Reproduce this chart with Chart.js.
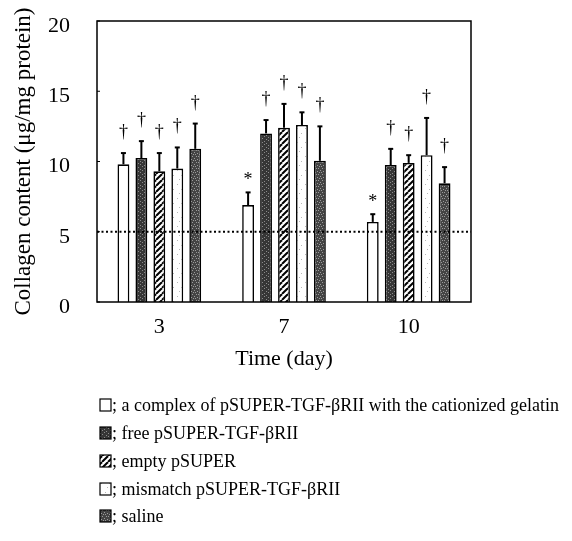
<!DOCTYPE html>
<html>
<head>
<meta charset="utf-8">
<script src="https://cdn.jsdelivr.net/npm/chart.js@4.4.0/dist/chart.umd.min.js"></script>
<style>
html,body{margin:0;padding:0;background:#fff;}
#wrap{width:572px;height:541px;position:relative;}
</style>
</head>
<body>
<div id="wrap"><canvas id="c" width="572" height="541"></canvas></div>
<script>
// ---- data ----
const categories = ['3', '7', '10'];
const seriesNames = [
  '; a complex of pSUPER-TGF-\u03B2RII with the cationized gelatin',
  '; free pSUPER-TGF-\u03B2RII',
  '; empty pSUPER',
  '; mismatch pSUPER-TGF-\u03B2RII',
  '; saline'
];
const complexVals  = [9.8, 6.9, 5.7];
const freeVals     = [10.25, 12.0, 9.75];
const emptyVals    = [9.3, 12.4, 9.9];
const mismatchVals = [9.5, 12.6, 10.45];
const salineVals   = [10.9, 10.05, 8.45];

const complexErr  = [0.8, 0.9, 0.55];
const freeErr     = [1.2, 0.95, 1.15];
const emptyErr    = [1.3, 1.7, 0.55];
const mismatchErr = [1.5, 0.9, 2.65];
const salineErr   = [1.8, 2.45, 1.15];

const complexMarks  = ['\u2020', '*', '*'];
const freeMarks     = ['\u2020', '\u2020', '\u2020'];
const emptyMarks    = ['\u2020', '\u2020', '\u2020'];
const mismatchMarks = ['\u2020', '\u2020', '\u2020'];
const salineMarks   = ['\u2020', '\u2020', '\u2020'];

const yTicks = [0, 5, 10, 15, 20];
const referenceLevel = 5;

// ---- patterns ----
function makePattern(draw, w, h) {
  const cv = document.createElement('canvas');
  cv.width = w; cv.height = h;
  const g = cv.getContext('2d');
  draw(g, w, h);
  return g.createPattern(cv, 'repeat');
}
const pWhite = '#ffffff';
const pFree = makePattern((g, w, h) => {
  g.fillStyle = '#363636'; g.fillRect(0, 0, w, h);
  g.fillStyle = '#8a8a8a';
  [[0,0],[2,1],[1,3],[3,2],[0,5],[2,4],[3,6],[1,7]].forEach(p => g.fillRect(p[0]*2, p[1], 1, 1));
}, 8, 8);
const pEmpty = makePattern((g, w, h) => {
  g.fillStyle = '#fff'; g.fillRect(0, 0, w, h);
  g.strokeStyle = '#000'; g.lineWidth = 2;
  for (let k = -w; k <= 2 * w; k += 6) {
    g.beginPath(); g.moveTo(k, h); g.lineTo(k + h, 0); g.stroke();
  }
}, 6, 6);
const pMismatch = makePattern((g, w, h) => {
  g.fillStyle = '#ffffff'; g.fillRect(0, 0, w, h);
  g.fillStyle = '#b8b8b8';
  g.fillRect(1, 2, 1, 1); g.fillRect(5, 7, 1, 1); g.fillRect(3, 11, 1, 1);
}, 8, 14);
const pSaline = makePattern((g, w, h) => {
  g.fillStyle = '#444444'; g.fillRect(0, 0, w, h);
  g.fillStyle = '#9a9a9a';
  g.fillRect(0, 0, 1, 1); g.fillRect(2, 2, 1, 1); g.fillRect(4, 0, 1, 1); g.fillRect(1, 4, 1, 1); g.fillRect(3, 4, 1, 1); g.fillRect(5, 3, 1, 1);
}, 6, 6);

const fills = [pWhite, pFree, pEmpty, pMismatch, pSaline];
const allVals = [complexVals, freeVals, emptyVals, mismatchVals, salineVals];
const allErr = [complexErr, freeErr, emptyErr, mismatchErr, salineErr];
const allMarks = [complexMarks, freeMarks, emptyMarks, mismatchMarks, salineMarks];

const SERIF = '"Liberation Serif", "DejaVu Serif", serif';

const datasets = allVals.map((v, i) => ({
  label: seriesNames[i],
  data: v,
  backgroundColor: fills[i],
  borderColor: '#000',
  borderWidth: 1.6,
  borderSkipped: 'bottom',
  categoryPercentage: 0.72,
  barPercentage: 0.66,
  errTop: allErr[i],
  marks: allMarks[i]
}));

const extrasPlugin = {
  id: 'extras',
  afterDatasetsDraw(chart) {
    const ctx = chart.ctx;
    const y = chart.scales.y;
    const a = chart.chartArea;
    ctx.save();
    // reference dotted line
    const ry = y.getPixelForValue(referenceLevel);
    ctx.strokeStyle = '#000';
    ctx.lineWidth = 2;
    ctx.setLineDash([2, 2.5]);
    ctx.beginPath(); ctx.moveTo(a.left, ry); ctx.lineTo(a.right, ry); ctx.stroke();
    ctx.setLineDash([]);
    // error bars and marks
    chart.data.datasets.forEach((ds, i) => {
      const meta = chart.getDatasetMeta(i);
      meta.data.forEach((bar, j) => {
        const top = y.getPixelForValue(ds.data[j] + ds.errTop[j]);
        const base = y.getPixelForValue(ds.data[j]);
        ctx.strokeStyle = '#000';
        ctx.lineWidth = 2;
        ctx.beginPath(); ctx.moveTo(bar.x, base); ctx.lineTo(bar.x, top); ctx.stroke();
        ctx.beginPath(); ctx.moveTo(bar.x - 2.5, top); ctx.lineTo(bar.x + 2.5, top); ctx.stroke();
        ctx.fillStyle = '#000';
        ctx.font = '18px ' + SERIF;
        ctx.textAlign = 'center';
        ctx.textBaseline = 'alphabetic';
        const m = ds.marks[j];
        ctx.fillText(m, bar.x, m === '*' ? top - 7 : top - 16);
      });
    });
    // small inward ticks on the left axis
    ctx.lineWidth = 1;
    y.ticks.forEach(t => {
      const py = y.getPixelForValue(t.value);
      ctx.beginPath(); ctx.moveTo(a.left, py); ctx.lineTo(a.left + 3, py); ctx.stroke();
    });
    // frame
    ctx.lineWidth = 1.5;
    ctx.strokeStyle = '#000';
    ctx.strokeRect(a.left, a.top, a.right - a.left, a.bottom - a.top);
    ctx.restore();
  },
  afterDraw(chart) {
    const ctx = chart.ctx;
    ctx.save();
    const ys = [405, 433, 461, 489, 516];
    chart.data.datasets.forEach((ds, i) => {
      const yy = ys[i];
      ctx.fillStyle = ds.backgroundColor;
      ctx.fillRect(100, yy - 6, 11, 12);
      ctx.strokeStyle = '#000';
      ctx.lineWidth = 1.2;
      ctx.strokeRect(100, yy - 6, 11, 12);
      ctx.fillStyle = '#000';
      ctx.font = '18px ' + SERIF;
      ctx.textAlign = 'left';
      ctx.textBaseline = 'middle';
      ctx.fillText(ds.label, 112, yy + 1);
    });
    ctx.restore();
  }
};

new Chart(document.getElementById('c'), {
  type: 'bar',
  data: { labels: categories, datasets },
  options: {
    responsive: false,
    animation: false,
    events: [],
    layout: { padding: { left: 0, top: 21, right: 101, bottom: 169 } },
    plugins: { legend: { display: false }, tooltip: { enabled: false } },
    scales: {
      x: {
        grid: { display: false, drawTicks: false },
        border: { display: false },
        ticks: { color: '#000', font: { family: SERIF, size: 22 }, padding: 12 },
        title: { display: true, text: 'Time (day)', color: '#000', font: { family: SERIF, size: 22 }, padding: { top: 2, bottom: 0 } },
        afterFit(s) { s.height = 70; s.paddingLeft = 0; s.paddingRight = 0; }
      },
      y: {
        min: 0, max: 20,
        afterBuildTicks(s) { s.ticks = yTicks.map(v => ({ value: v })); },
        grid: { display: false, drawTicks: false },
        border: { display: false },
        ticks: { color: '#000', font: { family: SERIF, size: 22 }, padding: 27, labelOffset: 5 },
        title: { display: true, text: 'Collagen content (\u03BCg/mg protein)', color: '#000', font: { family: SERIF, size: 23 }, padding: { top: 10, bottom: 0 } },
        afterFit(s) { s.width = 97; s.paddingTop = 0; s.paddingBottom = 0; }
      }
    }
  },
  plugins: [extrasPlugin]
});
</script>
</body>
</html>
